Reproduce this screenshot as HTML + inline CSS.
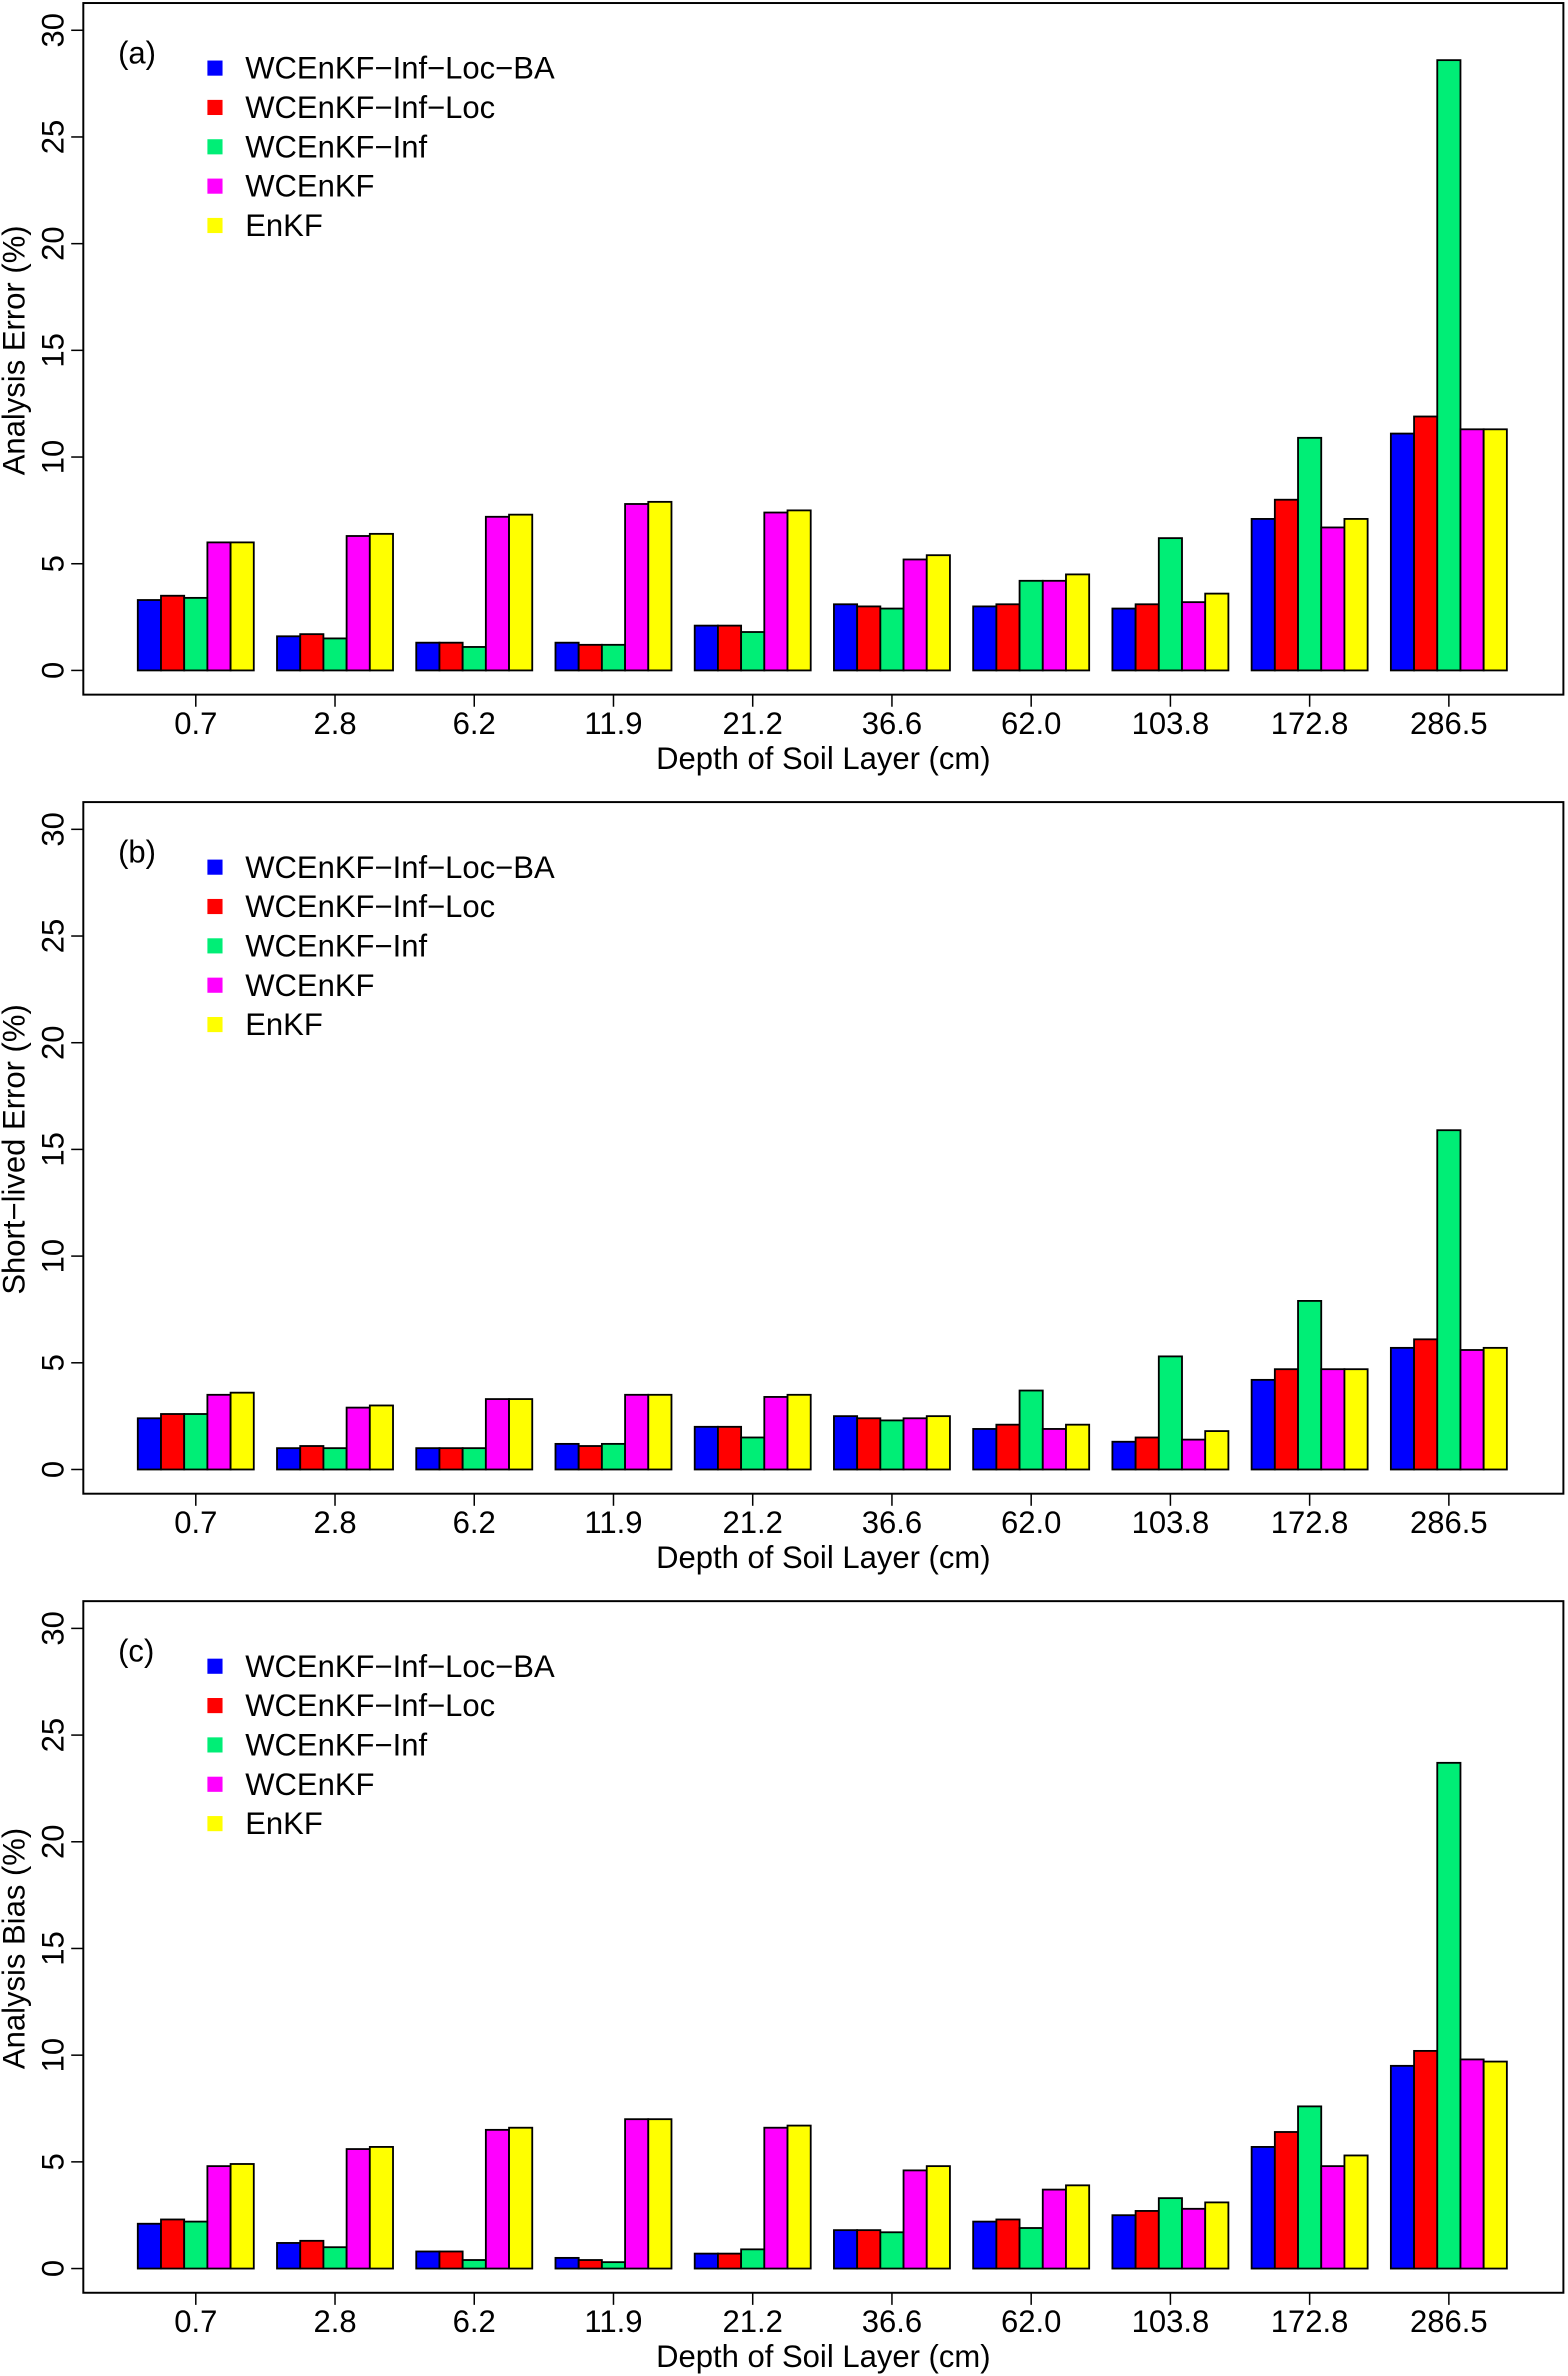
<!DOCTYPE html>
<html><head><meta charset="utf-8"><style>
html,body{margin:0;padding:0;background:#fff}
svg{display:block;font-family:"Liberation Sans",Arial,sans-serif}
</style></head><body>
<svg id="chart" width="1568" height="2376" viewBox="0 0 1036 1570" xmlns="http://www.w3.org/2000/svg"></svg>
<script>
const categories=["0.7","2.8","6.2","11.9","21.2","36.6","62.0","103.8","172.8","286.5"];
const seriesNames=["WCEnKF\u2212Inf\u2212Loc\u2212BA","WCEnKF\u2212Inf\u2212Loc","WCEnKF\u2212Inf","WCEnKF","EnKF"];
const seriesColors=["#0000ff","#ff0000","#00ee76","#ff00ff","#ffff00"];
const yTicks=[0,5,10,15,20,25,30];
const errA=[[3.3,3.5,3.4,6.0,6.0],[1.6,1.7,1.5,6.3,6.4],[1.3,1.3,1.1,7.2,7.3],[1.3,1.2,1.2,7.8,7.9],[2.1,2.1,1.8,7.4,7.5],[3.1,3.0,2.9,5.2,5.4],[3.0,3.1,4.2,4.2,4.5],[2.9,3.1,6.2,3.2,3.6],[7.1,8.0,10.9,6.7,7.1],[11.1,11.9,28.6,11.3,11.3]];
const errB=[[2.4,2.6,2.6,3.5,3.6],[1.0,1.1,1.0,2.9,3.0],[1.0,1.0,1.0,3.3,3.3],[1.2,1.1,1.2,3.5,3.5],[2.0,2.0,1.5,3.4,3.5],[2.5,2.4,2.3,2.4,2.5],[1.9,2.1,3.7,1.9,2.1],[1.3,1.5,5.3,1.4,1.8],[4.2,4.7,7.9,4.7,4.7],[5.7,6.1,15.9,5.6,5.7]];
const errC=[[2.1,2.3,2.2,4.8,4.9],[1.2,1.3,1.0,5.6,5.7],[0.8,0.8,0.4,6.5,6.6],[0.5,0.4,0.3,7.0,7.0],[0.7,0.7,0.9,6.6,6.7],[1.8,1.8,1.7,4.6,4.8],[2.2,2.3,1.9,3.7,3.9],[2.5,2.7,3.3,2.8,3.1],[5.7,6.4,7.6,4.8,5.3],[9.5,10.2,23.7,9.8,9.7]];
const panelLabels=["(a)","(b)","(c)"];
const yTitles=["Analysis Error (%)","Short\u2212lived Error (%)","Analysis Bias (%)"];

const NS="http://www.w3.org/2000/svg";
const svg=document.getElementById('chart');
function mk(tag,attrs,parent,text){const e=document.createElementNS(NS,tag);for(const k in attrs)e.setAttribute(k,attrs[k]);if(text!==undefined)e.textContent=text;parent.appendChild(e);return e;}

const panels=[{top:2,data:errA},{top:530,data:errB},{top:1058,data:errC}];
const L=55,R=1033,bw=15.33,FS=20.5;
panels.forEach((p,pi)=>{
  const g=mk('g',{},svg);
  
  
  const y0=p.top+441, y30=p.top+18;
  const yS=v=>y0-(y0-y30)*v/30;
  const xS=(ci,si)=>91+ci*92+si*bw;
  const box=mk('rect',{x:L,y:p.top,width:R-L,height:457,fill:'none',stroke:'#000','stroke-width':1.3},g);
  
  yTicks.forEach(t=>{
    const y=yS(t);
    mk('line',{x1:L-8,x2:L,y1:y,y2:y,stroke:'#000','stroke-width':1},g);
    const tx=mk('text',{x:0,y:0,transform:`translate(42,${y}) rotate(-90)`,'text-anchor':'middle','font-size':FS},g,String(t));
    
  });
  const yt=mk('text',{x:0,y:0,transform:`translate(16,${(y0+y30)/2}) rotate(-90)`,'text-anchor':'middle','font-size':FS},g,yTitles[pi]);
  
  p.data.forEach((grp,ci)=>{
    grp.forEach((v,si)=>{
      const b=mk('rect',{x:xS(ci,si),y:yS(v),width:bw,height:y0-yS(v),fill:seriesColors[si],stroke:'#000','stroke-width':1.2},g);
      
      
    });
    const cx=xS(ci,2.5);
    mk('line',{x1:cx,x2:cx,y1:p.top+457,y2:p.top+465,stroke:'#000','stroke-width':1},g);
    const xl=mk('text',{x:cx,y:p.top+483,'text-anchor':'middle','font-size':FS},g,categories[ci]);
    
  });
  const xt=mk('text',{x:544,y:p.top+506,'text-anchor':'middle','font-size':FS},g,'Depth of Soil Layer (cm)');
  
  const pl=mk('text',{x:78,y:p.top+40,'font-size':FS},g,panelLabels[pi]);
  
  seriesNames.forEach((n,si)=>{
    const ly=p.top+43+si*26;
    const sq=mk('rect',{x:137,y:ly-5,width:10,height:10,fill:seriesColors[si]},g);
    
    const lt=mk('text',{x:162,y:ly+7,'font-size':FS},g,n);
    
  });
});
</script>
</body></html>
